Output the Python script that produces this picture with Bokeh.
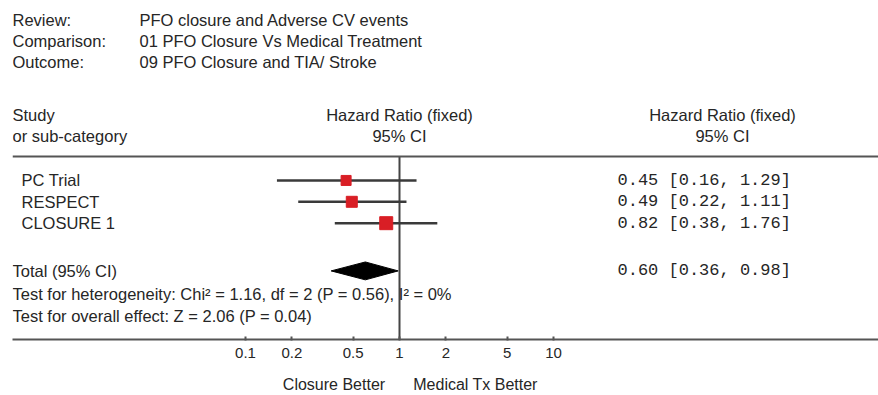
from bokeh.plotting import figure
from bokeh.models import (Range1d, Label, Span, FixedTicker, CustomJSTickFormatter,
                          ColumnDataSource, LogAxis)
from bokeh.embed import file_html
from bokeh.resources import INLINE

# ---------------- data ----------------
header_keys = ["Review:", "Comparison:", "Outcome:"]
header_vals = ["PFO closure and Adverse CV events",
               "01 PFO Closure Vs Medical Treatment",
               "09 PFO Closure and TIA/ Stroke"]
studies = ["PC Trial", "RESPECT", "CLOSURE 1"]
hr = [0.45, 0.49, 0.82]
ci_lo = [0.16, 0.22, 0.38]
ci_hi = [1.29, 1.11, 1.76]
total_hr = 0.60
total_lo = 0.36
total_hi = 0.98
tick_values = [0.1, 0.2, 0.5, 1, 2, 5, 10]
het_text = "Test for heterogeneity: Chi\u00b2 = 1.16, df = 2 (P = 0.56), I\u00b2 = 0%"
eff_text = "Test for overall effect: Z = 2.06 (P = 0.04)"
favour_labels = ["Closure Better", "Medical Tx Better"]

# ---------------- layout (page pixels) ----------------
W, H = 878, 395
LEFT = 12               # frame left edge
X1 = 399                # pixel of HR = 1
DEC = 154               # pixels per decade
AXIS_Y = 341
RULE_Y = 157
row_y = [181 + 21.5 * i for i in range(len(studies))]
total_y = 272
box_sizes = [10, 11, 13]
favour_px = [333.5, 475]
FONT = "Liberation Sans"
MONO = "Liberation Mono"
TXT = "#262626"


def px2x(px):
    return 10 ** ((px - X1) / DEC)


p = figure(width=W, height=H, x_axis_type="log", y_axis_location=None,
           output_backend="svg", toolbar_location=None,
           x_range=Range1d(px2x(LEFT), px2x(W)),
           y_range=Range1d(AXIS_Y, 0),
           min_border_left=LEFT, min_border_right=0, min_border_top=0,
           min_border_bottom=H - AXIS_Y)
p.grid.visible = False
p.outline_line_color = None
p.background_fill_color = "white"
p.border_fill_color = "white"

ax = p.xaxis[0]
ax.ticker = FixedTicker(ticks=tick_values)
ax.formatter = CustomJSTickFormatter(code="return String(Math.round(tick*10)/10)")
ax.minor_tick_line_color = None
ax.axis_line_width = 2
ax.axis_line_color = "#555555"
ax.major_tick_line_color = "#555555"
ax.major_tick_line_width = 2
ax.major_tick_in = 3
ax.major_tick_out = 1
ax.major_label_standoff = 7
ax.major_label_text_font = FONT
ax.major_label_text_font_size = "15px"
ax.major_label_text_color = TXT

ax2 = LogAxis(ticker=FixedTicker(ticks=[px2x(v) for v in favour_px]),
              formatter=CustomJSTickFormatter(args=dict(labels=favour_labels),
                                              code="return labels[index]"),
              axis_line_color=None, major_tick_line_color=None, minor_tick_line_color=None,
              major_label_standoff=9, major_label_text_font=FONT,
              major_label_text_font_size="16px", major_label_text_color=TXT)
p.add_layout(ax2, "below")


def txt(px, y, s, size=16.5, font=FONT, align="left"):
    p.add_layout(Label(x=px2x(px), y=y, text=s,
                       text_font=font, text_font_size=f"{size}px", text_align=align,
                       text_baseline="middle", text_color=TXT))


# header block
for i, (k, v) in enumerate(zip(header_keys, header_vals)):
    txt(12, 20 + 21 * i, k)
    txt(139, 20 + 21 * i, v)

txt(12, 115, "Study")
txt(12, 136, "or sub-category")
txt(X1, 115, "Hazard Ratio (fixed)", align="center")
txt(X1, 136, "95% CI", align="center")
txt(722, 115, "Hazard Ratio (fixed)", align="center")
txt(722, 136, "95% CI", align="center")

p.add_layout(Span(location=RULE_Y, dimension="width", line_color="#555555", line_width=2))

# null line
p.segment(x0=[1], x1=[1], y0=[RULE_Y], y1=[AXIS_Y], line_color="#444444", line_width=2)

src = ColumnDataSource(dict(study=studies, hr=hr, lo=ci_lo, hi=ci_hi, y=row_y, size=box_sizes))
p.segment(x0="lo", x1="hi", y0="y", y1="y", source=src, line_color="#3a3a3a", line_width=2.5)
p.scatter(x="hr", y="y", size="size", marker="square", source=src,
          fill_color="#d91e25", line_color="#d91e25")

for s, y, h, lo, hi in zip(studies, row_y, hr, ci_lo, ci_hi):
    txt(21, y, s)
    txt(617, y, f"{h:.2f} [{lo:.2f}, {hi:.2f}]", size=17, font=MONO)

# total diamond
p.patch(x=[total_lo, total_hr, total_hi, total_hr],
        y=[total_y, total_y - 9, total_y, total_y + 9],
        fill_color="black", line_color="black")
txt(12, total_y, "Total (95% CI)")
txt(617, total_y, f"{total_hr:.2f} [{total_lo:.2f}, {total_hi:.2f}]", size=17, font=MONO)
txt(12, 295, het_text)
txt(12, 317, eff_text)

open("out.html", "w").write(file_html(p, INLINE))
